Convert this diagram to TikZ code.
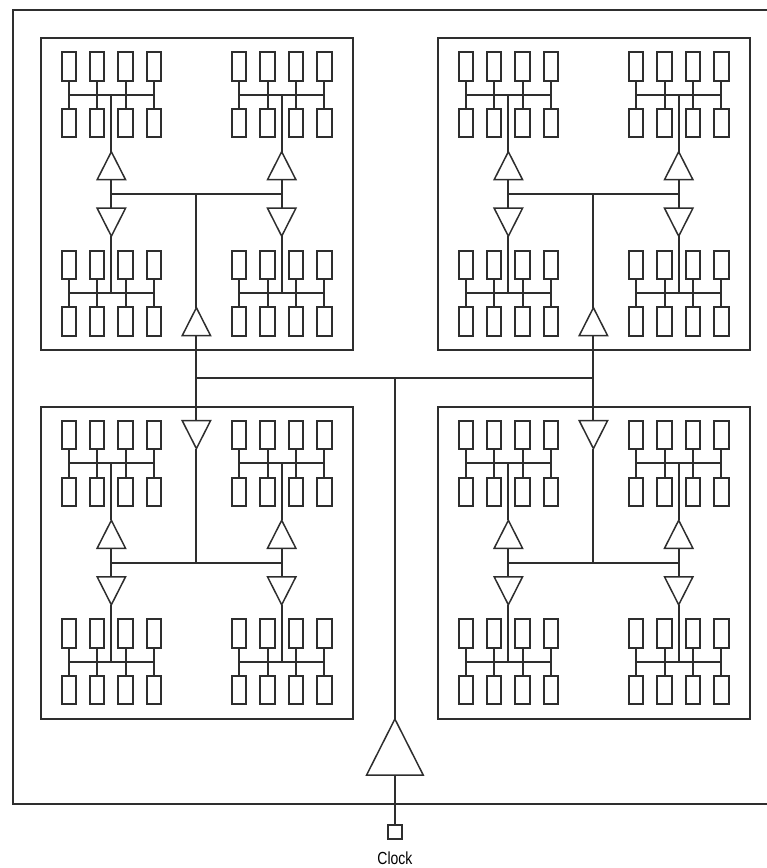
\documentclass[tikz,border=0pt]{standalone}
\usepackage{fontspec}
\setmainfont[FakeStretch=0.8]{Liberation Sans}
\usetikzlibrary{shapes.geometric}
\colorlet{ink}{black!82}
\tikzset{
  wire/.style={draw=ink,line width=2pt},
  frame/.style={draw=ink,line width=2pt,fill=none},
  flop/.style={draw=ink,line width=2pt,rectangle,minimum width=14.5pt,minimum height=28.4pt,inner sep=0pt,outer sep=0pt},
  buf/.style={draw=ink,line width=1.5pt,isosceles triangle,isosceles triangle stretches=true,inner sep=0pt,outer sep=0pt,minimum width=28.4pt,minimum height=28pt,anchor=apex},
  bufup/.style={buf,shape border rotate=90},
  bufdown/.style={buf,shape border rotate=-90},
}
\begin{document}
\begin{tikzpicture}[x=1pt,y=-1pt]
\useasboundingbox (0,0) rectangle (767,868);
\draw[wire] (767,10) -- (12.5,10) -- (12.5,803.5) -- (767,803.5);
% four blocks
\foreach \bn/\ox/\oy in {a/0/0,b/397/0,c/0/368.6,d/397/368.6}{
 \begin{scope}[shift={(\ox,\oy)}]
  \node[frame,rectangle,minimum width=312pt,minimum height=312pt,inner sep=0pt] (\bn box) at (196.5,194) {};
  \coordinate (\bn hub) at (196.4,194);
  % four groups
  \foreach \gn/\gx/\gy/\tst in {p/111.35/0/1,q/281.7/0/1,r/111.35/198.4/0,s/281.7/198.4/0}{
    \foreach \cn/\cdx in {1/-42.6,2/-14.2,3/14.2,4/42.6}{
      \node[flop] (\bn\gn u\cn) at (\gx+\cdx,66.5+\gy) {};
      \node[flop] (\bn\gn l\cn) at (\gx+\cdx,123.2+\gy) {};
      \draw[wire] (\bn\gn u\cn) -- (\bn\gn l\cn);
    }
    \coordinate (\bn\gn bus) at (\gx,94.85+\gy);
    \draw[wire] (\bn\gn u1 |- \bn\gn bus) -- (\bn\gn u4 |- \bn\gn bus);
    \coordinate (\bn\gn tap) at (\gx,194);
    \ifnum\tst=1
      \node[bufup] (\bn\gn buf) at (\gx,151.7) {};
      \draw[wire] (\bn\gn bus) -- (\bn\gn buf.apex);
      \draw[wire] (\bn\gn buf.lower side) -- (\bn\gn tap);
    \else
      \node[bufdown] (\bn\gn buf) at (\gx,236.2) {};
      \draw[wire] (\bn\gn tap) -- (\bn\gn buf.lower side);
      \draw[wire] (\bn\gn buf.apex) -- (\bn\gn bus);
    \fi
  }
  \draw[wire] (\bn ptap) -- (\bn qtap);
 \end{scope}
}
% entry buffers of the blocks
\node[bufup] (abuf) at (196.4,307.7) {};
\node[bufup] (bbuf) at (593.4,307.7) {};
\node[bufdown] (cbuf) at (196.4,448.6) {};
\node[bufdown] (dbuf) at (593.4,448.6) {};
\draw[wire] (ahub) -- (abuf.apex);
\draw[wire] (bhub) -- (bbuf.apex);
\draw[wire] (chub) -- (cbuf.apex);
\draw[wire] (dhub) -- (dbuf.apex);
% main bus
\coordinate (mainl) at (196.4,378.3);
\coordinate (mainr) at (593.4,378.3);
\coordinate (mainc) at (394.9,378.3);
\draw[wire] (mainl) -- (mainr);
\draw[wire] (abuf.lower side) -- (mainl);
\draw[wire] (bbuf.lower side) -- (mainr);
\draw[wire] (mainl) -- (cbuf.lower side);
\draw[wire] (mainr) -- (dbuf.lower side);
% root
\node[buf,minimum width=56.6pt,minimum height=56pt,shape border rotate=90] (root) at (394.9,719) {};
\draw[wire] (mainc) -- (root.apex);
\node[draw=ink,line width=2pt,rectangle,minimum width=14.5pt,minimum height=14.5pt,inner sep=0pt,outer sep=0pt] (pad) at (394.9,832) {};
\draw[wire] (root.lower side) -- (pad);
\node[inner sep=0pt,font=\fontsize{17.5pt}{17.5pt}\selectfont] (clk) at (394.9,858.5) {Clock};
\end{tikzpicture}
\end{document}
